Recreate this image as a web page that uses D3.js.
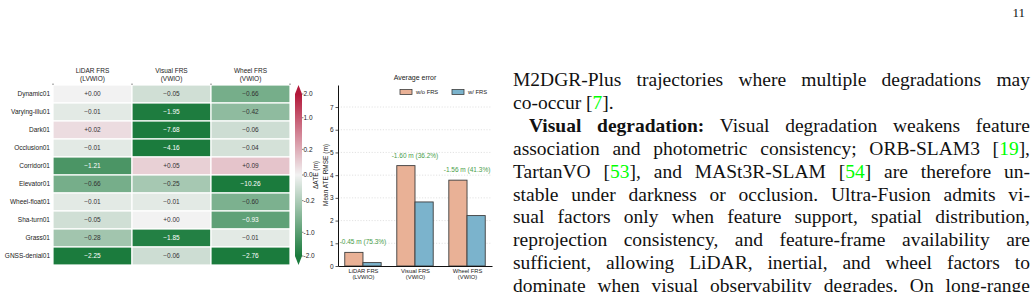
<!DOCTYPE html>
<html>
<head>
<meta charset="utf-8">
<script src="https://cdn.jsdelivr.net/npm/d3@7"></script>
<style>
body { margin: 0; width: 1036px; height: 292px; overflow: hidden; background: #fff; position: relative; }
#chart { position: absolute; left: 0; top: 0; }
.page { position: absolute; left: 513px; top: 0; width: 517px; height: 292px;
        font-family: "Liberation Serif", "Times New Roman", serif; font-size: 19.5px; color: #111; }
.ln { position: absolute; left: 0; width: 100%; white-space: nowrap; line-height: 22px;
      text-align: justify; text-align-last: justify; }
.ln.last { text-align-last: left; }
.ln.indent { left: 16px; width: calc(100% - 16px); }
.cite { color: #00ff00; }
.pnum { position: absolute; right: 5px; top: 5px; font-size: 13px; }
</style>
</head>
<body>
<svg id="chart" width="512" height="292"></svg>
<div class="page"></div>
<script>
// heatmap data
const rowNames = ["Dynamic01", "Varying-illu01", "Dark01", "Occlusion01", "Corridor01",
                  "Elevator01", "Wheel-float01", "Sha-turn01", "Grass01", "GNSS-denial01"];
const heatCols = ["LiDAR FRS", "Visual FRS", "Wheel FRS"];
const heatColSubs = ["(LVWIO)", "(VWIO)", "(VWIO)"];
const lidarDelta  = [0.00, -0.01, 0.02, -0.01, -1.21, -0.66, -0.01, -0.05, -0.28, -2.25];
const visualDelta = [-0.05, -1.95, -7.68, -4.16, 0.05, -0.25, -0.01, 0.00, -1.85, -0.06];
const wheelDelta  = [-0.66, -0.42, -0.06, -0.04, 0.09, -10.26, -0.60, -0.93, -0.01, -2.76];
const cbTicks = [2.0, 1.0, 0.2, 0.0, -0.2, -1.0, -2.0];

// bar data
const barGroups = ["LiDAR FRS", "Visual FRS", "Wheel FRS"];
const barGroupSubs = ["(LVWIO)", "(VWIO)", "(VWIO)"];
const withoutFRS = [0.60, 4.42, 3.78];
const withFRS = [0.15, 2.82, 2.22];
const gainText = ["-0.45 m (75.3%)", "-1.60 m (36.2%)", "-1.56 m (41.3%)"];
const barYTicks = [0, 1, 2, 3, 4, 5, 6, 7];

// page text
const pageLines = [
  {h: 'M2DGR-Plus trajectories where multiple degradations may'},
  {h: 'co-occur [<span class="cite">7</span>].', last: true},
  {h: '<b>Visual degradation:</b> Visual degradation weakens feature', indent: true},
  {h: 'association and photometric consistency; ORB-SLAM3 [<span class="cite">19</span>],'},
  {h: 'TartanVO [<span class="cite">53</span>], and MASt3R-SLAM [<span class="cite">54</span>] are therefore un-'},
  {h: 'stable under darkness or occlusion. Ultra-Fusion admits vi-'},
  {h: 'sual factors only when feature support, spatial distribution,'},
  {h: 'reprojection consistency, and feature-frame availability are'},
  {h: 'sufficient, allowing LiDAR, inertial, and wheel factors to'},
  {h: 'dominate when visual observability degrades. On long-range'}
];

const font = '"Liberation Sans", Arial, sans-serif';
const svg = d3.select("#chart").style("font-family", font);

// ---------- heatmap ----------
const heatVals = [lidarDelta, visualDelta, wheelDelta];
const cells = [];
heatVals.forEach(function(col, ci) {
  col.forEach(function(v, ri) { cells.push({col: heatCols[ci], row: rowNames[ri], v: v}); });
});

const hx = d3.scaleBand().domain(heatCols).range([53, 290]);
const hy = d3.scaleBand().domain(rowNames).range([85, 265]);
const norm = d3.scaleSqrt().domain([-2, 2]).range([0, 1]).clamp(true);
const cmap = d3.piecewise(d3.interpolateRgb, ["#1b7b3d", "#f2f2f2", "#b3183a"]);
const fmt = d3.format("+.2f");

const heat = svg.append("g").attr("class", "heat");
heat.selectAll("rect")
  .data(cells)
  .enter().append("rect")
    .attr("x", d => hx(d.col))
    .attr("y", d => hy(d.row))
    .attr("width", hx.bandwidth())
    .attr("height", hy.bandwidth())
    .attr("fill", d => cmap(norm(d.v)))
    .attr("stroke", "#fff")
    .attr("stroke-width", 1.2);

heat.selectAll("text.val")
  .data(cells)
  .enter().append("text")
    .attr("class", "val")
    .attr("x", d => hx(d.col) + hx.bandwidth() / 2)
    .attr("y", d => hy(d.row) + hy.bandwidth() / 2)
    .attr("dy", "0.35em")
    .attr("text-anchor", "middle")
    .attr("font-size", 6.5)
    .attr("fill", d => Math.abs(norm(d.v) - 0.5) > 0.31 ? "#fff" : "#333")
    .text(d => fmt(d.v));

heat.selectAll("text.row")
  .data(rowNames)
  .enter().append("text")
    .attr("class", "row")
    .attr("x", 50)
    .attr("y", d => hy(d) + hy.bandwidth() / 2)
    .attr("dy", "0.35em")
    .attr("text-anchor", "end")
    .attr("font-size", 6.5)
    .attr("fill", "#222")
    .text(d => d);

const head = heat.selectAll("g.head")
  .data(heatCols)
  .enter().append("g").attr("class", "head");
head.append("text")
  .attr("x", d => hx(d) + hx.bandwidth() / 2)
  .attr("y", 73)
  .attr("text-anchor", "middle").attr("font-size", 6.5).attr("fill", "#222")
  .text(d => d);
head.append("text")
  .attr("x", d => hx(d) + hx.bandwidth() / 2)
  .attr("y", 81)
  .attr("text-anchor", "middle").attr("font-size", 6.5).attr("fill", "#222")
  .text((d, i) => heatColSubs[i]);

// little marks at column edges
heat.selectAll("line.edge")
  .data(hx.domain().map(d => hx(d)).concat([hx.range()[1]]))
  .enter().append("line")
    .attr("x1", d => d).attr("x2", d => d)
    .attr("y1", 83.5).attr("y2", 85)
    .attr("stroke", "#555").attr("stroke-width", 0.8);

// ---------- colorbar ----------
const cbX = 295, cbW = 7;
const cbY = d3.scaleSqrt().domain([-2, 2]).range([256, 94]);
const cb = svg.append("g").attr("class", "colorbar");
const cbSteps = d3.range(cbY.range()[1], cbY.range()[0], 1);
cb.selectAll("rect")
  .data(cbSteps)
  .enter().append("rect")
    .attr("x", cbX).attr("y", d => d)
    .attr("width", cbW).attr("height", 1.2)
    .attr("fill", d => cmap(norm(cbY.invert(d + 0.5))));
cb.append("path")
  .attr("d", `M${cbX},${cbY(2)}L${cbX + cbW / 2},85L${cbX + cbW},${cbY(2)}Z`)
  .attr("fill", cmap(1));
cb.append("path")
  .attr("d", `M${cbX},${cbY(-2)}L${cbX + cbW / 2},265L${cbX + cbW},${cbY(-2)}Z`)
  .attr("fill", cmap(0));
cb.selectAll("line.tk")
  .data(cbTicks)
  .enter().append("line")
    .attr("x1", cbX + cbW).attr("x2", cbX + cbW + 1.5)
    .attr("y1", d => cbY(d)).attr("y2", d => cbY(d))
    .attr("stroke", "#333").attr("stroke-width", 0.6);
cb.selectAll("text")
  .data(cbTicks)
  .enter().append("text")
    .attr("x", cbX + cbW + 1.5)
    .attr("y", d => cbY(d))
    .attr("dy", "0.35em")
    .attr("font-size", 6.5).attr("fill", "#222")
    .text(d => d3.format(".1f")(d).replace("−", "-"));
svg.append("text")
  .attr("transform", "translate(318,175) rotate(-90)")
  .attr("text-anchor", "middle").attr("font-size", 6.5).attr("fill", "#222")
  .text("ΔATE (m)");

// ---------- bar chart ----------
const bx = d3.scaleLinear().domain([-0.48, 2.48]).range([338, 492]);
const by = d3.scaleLinear().domain([0, 7.97]).range([266, 85]);
const barW = 0.35;
const bars = svg.append("g").attr("class", "bars");

bars.selectAll("line.grid")
  .data(barYTicks.slice(1))
  .enter().append("line")
    .attr("x1", bx.range()[0]).attr("x2", bx.range()[1])
    .attr("y1", d => by(d)).attr("y2", d => by(d))
    .attr("stroke", "#d0d0d0").attr("stroke-width", 0.6)
    .attr("stroke-dasharray", "1.2,1.6");

bars.selectAll("rect.wo")
  .data(withoutFRS)
  .enter().append("rect")
    .attr("x", (d, i) => bx(i - barW))
    .attr("y", d => by(d))
    .attr("width", bx(barW) - bx(0))
    .attr("height", d => by(0) - by(d))
    .attr("fill", "#e9b196").attr("stroke", "#3d3d3d").attr("stroke-width", 0.9);
bars.selectAll("rect.w")
  .data(withFRS)
  .enter().append("rect")
    .attr("x", (d, i) => bx(i))
    .attr("y", d => by(d))
    .attr("width", bx(barW) - bx(0))
    .attr("height", d => by(0) - by(d))
    .attr("fill", "#7bb3cc").attr("stroke", "#3d3d3d").attr("stroke-width", 0.9);

bars.selectAll("text.gain")
  .data(gainText)
  .enter().append("text")
    .attr("x", (d, i) => bx(i))
    .attr("y", (d, i) => by(Math.max(withoutFRS[i], withFRS[i]) + 0.35))
    .attr("text-anchor", "middle").attr("font-size", 6.5).attr("fill", "#4a9e4a")
    .text(d => d);

const yAxis = bars.append("g")
  .attr("transform", `translate(${bx.range()[0]},0)`)
  .call(d3.axisLeft(by).tickValues(barYTicks).tickSize(2.5).tickSizeOuter(0).tickPadding(2));
yAxis.selectAll("text").attr("font-size", 6.5).attr("fill", "#222").attr("font-family", font);
yAxis.select(".domain").attr("stroke", "#111").attr("stroke-width", 1);
yAxis.selectAll(".tick line").attr("stroke", "#111").attr("stroke-width", 0.7);

const xAxis = bars.append("g")
  .attr("transform", `translate(0,${by(0)})`)
  .call(d3.axisBottom(bx).tickValues([0, 1, 2]).tickSize(0).tickSizeOuter(0).tickFormat(""));
xAxis.select(".domain").attr("stroke", "#111").attr("stroke-width", 1.2);
xAxis.selectAll(".tick").each(function(d) {
  const t = d3.select(this).append("text")
    .attr("fill", "#222").attr("font-size", 5.8).attr("font-family", font)
    .attr("text-anchor", "middle");
  t.append("tspan").attr("x", 0).attr("y", 7).text(barGroups[d]);
  t.append("tspan").attr("x", 0).attr("y", 13).text(barGroupSubs[d]);
});

bars.append("text")
  .attr("transform", "translate(328,175) rotate(-90)")
  .attr("text-anchor", "middle").attr("font-size", 6.5).attr("fill", "#222")
  .text("Mean ATE RMSE (m)");

bars.append("text")
  .attr("x", 415).attr("y", 80)
  .attr("text-anchor", "middle").attr("font-size", 7).attr("fill", "#222")
  .text("Average error");

const legendItems = [{label: "w/o FRS", fill: "#e9b196", x: 400}, {label: "w/ FRS", fill: "#7bb3cc", x: 452}];
const lg = bars.selectAll("g.legend")
  .data(legendItems)
  .enter().append("g").attr("class", "legend")
  .attr("transform", d => `translate(${d.x},89.5)`);
lg.append("rect")
  .attr("width", 12).attr("height", 5)
  .attr("fill", d => d.fill).attr("stroke", "#3d3d3d").attr("stroke-width", 0.8);
lg.append("text")
  .attr("x", 16).attr("y", 2.5).attr("dy", "0.35em")
  .attr("font-size", 5.8).attr("fill", "#222")
  .text(d => d.label);

// ---------- page text ----------
const page = d3.select(".page");
page.append("div").attr("class", "pnum").text("11");
page.selectAll("div.ln")
  .data(pageLines)
  .enter().append("div")
    .attr("class", d => "ln" + (d.last ? " last" : "") + (d.indent ? " indent" : ""))
    .style("top", (d, i) => (80 + i * 22.9 - 11) + "px")
    .html(d => d.h);
</script>
</body>
</html>
